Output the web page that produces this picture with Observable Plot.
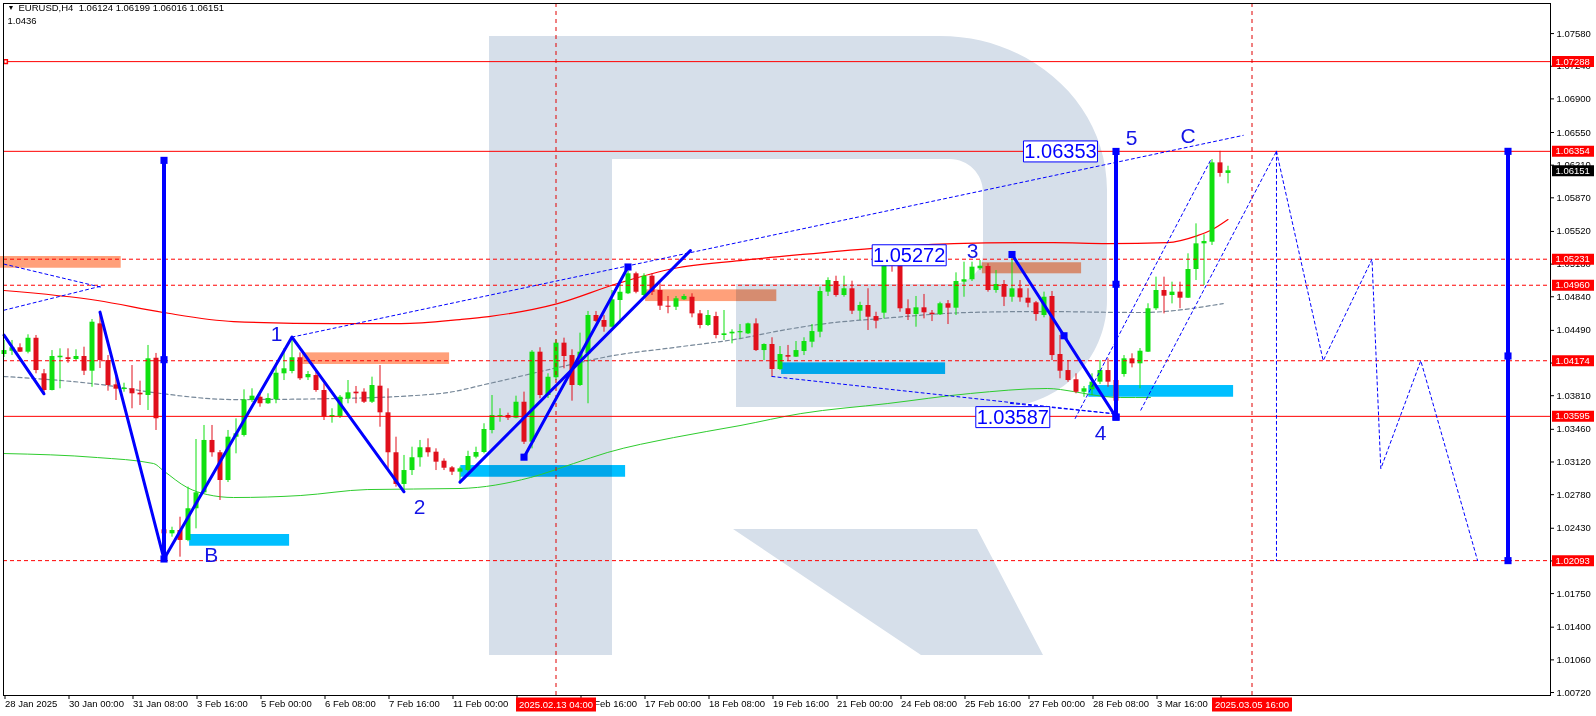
<!DOCTYPE html>
<html>
<head>
<meta charset="utf-8">
<title>EURUSD H4</title>
<script src="https://cdn.jsdelivr.net/npm/d3@7"></script>
<script src="https://cdn.jsdelivr.net/npm/@observablehq/plot@0.6"></script>
<style>
  html, body { margin: 0; padding: 0; background: #ffffff; }
  #chart svg { display: block; }
</style>
</head>
<body>
<div id="chart"></div>
<script>
// EURUSD H4 bars, index 0 = 28 Jan 2025 16:00 (weekends skipped, 8 bars per axis label)
const opens = [
  1.04239,1.04273,1.04309,1.04263,1.04408,1.04038,1.03864,1.04205,1.04205,1.04187,
  1.04218,1.04065,1.04558,1.04176,1.03923,1.03874,1.03882,1.03836,1.03812,1.04200,
  1.02414,1.02372,1.02407,1.02303,1.02633,1.02799,1.03344,1.03216,1.02927,1.03378,
  1.03396,1.03760,1.03794,1.03726,1.03767,1.04038,1.04062,1.04205,1.03997,1.04020,
  1.03864,1.03586,1.03594,1.03778,1.03847,1.03847,1.03742,1.03909,1.03632,1.03216,
  1.02886,1.03031,1.03164,1.03268,1.03222,1.03128,1.03059,1.03014,1.03031,1.03170,
  1.03219,1.03448,1.03594,1.03604,1.03576,1.03742,1.03326,1.04263,1.03812,1.03997,
  1.04357,1.04228,1.03916,1.04246,1.04645,1.04593,1.04523,1.04801,1.04871,1.05079,
  1.04853,1.05054,1.04905,1.04742,1.04731,1.04808,1.04835,1.04662,1.04541,1.04634,
  1.04437,1.04454,1.04465,1.04454,1.04558,1.04280,1.04343,1.04083,1.04228,1.04211,
  1.04270,1.04367,1.04471,1.04888,1.04999,1.04853,1.04923,1.04690,1.04749,1.04634,
  1.04669,1.05176,1.05166,1.04715,1.04655,1.04725,1.04669,1.04652,1.04767,1.04721,
  1.04992,1.05017,1.05131,1.05155,1.04905,1.04968,1.04835,1.04923,1.04825,1.04777,
  1.04645,1.04843,1.04239,1.04072,1.03976,1.03846,1.03871,1.03951,1.04072,1.03968,
  1.04031,1.04194,1.04142,1.04263,1.04715,1.04905,1.04853,1.04888,1.04825,1.05124,
  1.05391,1.05408,1.06234,1.06124
];
const highs = [
  1.04385,1.04385,1.04350,1.04444,1.04437,1.04083,1.04280,1.04298,1.04298,1.04288,
  1.04315,1.04603,1.04679,1.04228,1.04020,1.03940,1.04124,1.03961,1.04333,1.04250,
  1.02701,1.02441,1.02545,1.02858,1.03354,1.03500,1.03500,1.03239,1.03448,1.03569,
  1.03871,1.03882,1.03847,1.03830,1.04142,1.04298,1.04416,1.04256,1.04062,1.04072,
  1.03934,1.03674,1.03812,1.03968,1.03906,1.03882,1.04003,1.04124,1.03882,1.03378,
  1.03188,1.03274,1.03344,1.03361,1.03257,1.03153,1.03073,1.03066,1.03232,1.03274,
  1.03518,1.03812,1.03674,1.03628,1.03805,1.03847,1.04280,1.04309,1.04038,1.04392,
  1.04409,1.04288,1.04461,1.04687,1.04687,1.04645,1.04905,1.04975,1.05106,1.05096,
  1.05079,1.05079,1.04975,1.04843,1.04843,1.04864,1.04871,1.04697,1.04697,1.04679,
  1.04697,1.04496,1.04551,1.04565,1.04610,1.04350,1.04413,1.04322,1.04333,1.04374,
  1.04413,1.04551,1.04940,1.05037,1.05054,1.05054,1.05002,1.04783,1.04923,1.04679,
  1.05250,1.05238,1.05197,1.04808,1.04843,1.04864,1.04697,1.04783,1.04801,1.05089,
  1.05200,1.05200,1.05217,1.05183,1.05113,1.05009,1.05272,1.05009,1.04923,1.04791,
  1.04888,1.04895,1.04437,1.04176,1.04038,1.03906,1.04038,1.04176,1.04194,1.04038,
  1.04228,1.04246,1.04301,1.04767,1.05044,1.05044,1.04992,1.04992,1.05287,1.05599,
  1.05485,1.06269,1.06354,1.06199
];
const lows = [
  1.04208,1.04229,1.04260,1.04246,1.04038,1.03830,1.03860,1.03882,1.04148,1.04176,
  1.04020,1.03898,1.04093,1.03857,1.03760,1.03846,1.03674,1.03708,1.03656,1.03448,
  1.02100,1.02337,1.02129,1.02290,1.02424,1.02790,1.03170,1.02719,1.02906,1.03205,
  1.03380,1.03739,1.03690,1.03720,1.03726,1.03968,1.04038,1.03968,1.03968,1.03846,
  1.03552,1.03524,1.03573,1.03726,1.03726,1.03729,1.03729,1.03482,1.03049,1.02858,
  1.02806,1.02979,1.03066,1.03170,1.03031,1.03031,1.02979,1.02893,1.03014,1.03153,
  1.03205,1.03413,1.03534,1.03552,1.03570,1.03302,1.03257,1.03778,1.03781,1.03968,
  1.04090,1.03753,1.03906,1.03726,1.04572,1.04471,1.04517,1.04558,1.04863,1.04871,
  1.04843,1.04853,1.04697,1.04663,1.04697,1.04801,1.04621,1.04506,1.04530,1.04402,
  1.04385,1.04350,1.04402,1.04447,1.04270,1.04176,1.04003,1.04072,1.04169,1.04208,
  1.04228,1.04309,1.04413,1.04843,1.04836,1.04836,1.04655,1.04593,1.04489,1.04506,
  1.04610,1.05096,1.04679,1.04593,1.04523,1.04610,1.04582,1.04645,1.04551,1.04645,
  1.04835,1.04999,1.05113,1.04888,1.04877,1.04738,1.04783,1.04783,1.04725,1.04585,
  1.04621,1.04176,1.03986,1.03950,1.03830,1.03794,1.03812,1.03927,1.03898,1.03587,
  1.04003,1.04100,1.03882,1.04260,1.04697,1.04662,1.04766,1.04715,1.04822,1.05009,
  1.04957,1.05374,1.06085,1.06016
];
const closes = [
  1.04280,1.04309,1.04263,1.04408,1.04072,1.03864,1.04218,1.04221,1.04187,1.04218,
  1.04065,1.04575,1.04176,1.03916,1.03878,1.03887,1.03830,1.03819,1.04194,1.03570,
  1.02372,1.02407,1.02303,1.02633,1.02799,1.03344,1.03216,1.02927,1.03378,1.03413,
  1.03767,1.03805,1.03726,1.03781,1.04044,1.04090,1.04205,1.03986,1.04031,1.03864,
  1.03586,1.03604,1.03794,1.03840,1.03830,1.03742,1.03916,1.03632,1.03216,1.02886,
  1.03031,1.03164,1.03268,1.03216,1.03118,1.03055,1.03014,1.03049,1.03177,1.03219,
  1.03458,1.03604,1.03604,1.03576,1.03742,1.03326,1.04263,1.03812,1.04002,1.04357,
  1.04218,1.03916,1.04263,1.04645,1.04583,1.04523,1.04808,1.04887,1.05079,1.04887,
  1.05054,1.04887,1.04742,1.04731,1.04819,1.04843,1.04662,1.04541,1.04645,1.04437,
  1.04454,1.04471,1.04478,1.04558,1.04280,1.04343,1.04083,1.04239,1.04211,1.04280,
  1.04374,1.04478,1.04895,1.05009,1.04853,1.04923,1.04690,1.04749,1.04627,1.04586,
  1.05183,1.05155,1.04715,1.04655,1.04725,1.04673,1.04655,1.04767,1.04721,1.04999,
  1.05017,1.05148,1.05158,1.04905,1.04968,1.04835,1.04923,1.04829,1.04773,1.04655,
  1.04835,1.04228,1.04065,1.03968,1.03846,1.03882,1.03951,1.04072,1.03951,1.03753,
  1.04194,1.04142,1.04273,1.04715,1.04905,1.04846,1.04888,1.04825,1.05124,1.05391,
  1.05415,1.06234,1.06124,1.06151
];

// moving averages, sampled at bar positions
const slowMaBars   = [0, 11.7, 19.9, 28.7, 41.2, 49.6, 57, 60.6, 69.2, 76.7, 83.7, 92, 99.6, 108.3, 118.7, 131.2, 137.9, 145.4, 149.2, 150.8, 153];
const slowMaValues = [1.04905, 1.04801, 1.04676, 1.04582, 1.04561, 1.04561, 1.04603, 1.04634, 1.04769, 1.04978, 1.05134, 1.05217, 1.05279, 1.05342, 1.05394, 1.05404, 1.05394, 1.05404, 1.05477, 1.05529, 1.05644];
const midMaBars    = [0, 12.1, 19.6, 28.7, 41.2, 54.6, 60.6, 69.2, 76.2, 83.7, 92, 97.1, 102.7, 109.6, 120.4, 129.6, 142.1, 152.4];
const midMaValues  = [1.04010, 1.03926, 1.03833, 1.03770, 1.03780, 1.03833, 1.03936, 1.04103, 1.04228, 1.04311, 1.04405, 1.04488, 1.04561, 1.04613, 1.04676, 1.04686, 1.04676, 1.04769];
const longMaBars   = [0, 11.7, 18.7, 19.9, 22.9, 25.4, 28.7, 37.1, 45.4, 57, 65.8, 71.2, 75.4, 83.7, 92, 99.6, 110.4, 120.8, 130.4, 133.7, 135.8, 139.6, 143.3];
const longMaValues = [1.03208, 1.03166, 1.03104, 1.03031, 1.02854, 1.02781, 1.02750, 1.02771, 1.02833, 1.02844, 1.02958, 1.03104, 1.03218, 1.03374, 1.03499, 1.03624, 1.03728, 1.03833, 1.03885, 1.03853, 1.03822, 1.03791, 1.03791];

// horizontal levels
const solidLevels  = [1.07288, 1.06354, 1.03595];
const dashedLevels = [1.05231, 1.04960, 1.04174, 1.02093];
const levelLabels  = [1.07288, 1.06354, 1.05231, 1.04960, 1.04174, 1.03595, 1.02093];
const lastPrice    = 1.06151;

// vertical time markers
const markerBars   = [69, 156];
const markerLabels = ["2025.02.13 04:00", "2025.03.05 16:00"];

// axes
const priceTicks = [1.07580, 1.07240, 1.06900, 1.06550, 1.06210, 1.05870, 1.05520, 1.05180, 1.04840, 1.04490, 1.04150,
                    1.03810, 1.03460, 1.03120, 1.02780, 1.02430, 1.02090, 1.01750, 1.01400, 1.01060, 1.00720];
const timeTickBars = [0, 8, 16, 24, 32, 40, 48, 56, 64, 72, 80, 88, 96, 104, 112, 120, 128, 136, 144, 152];
const timeLabels   = ["28 Jan 2025", "30 Jan 00:00", "31 Jan 08:00", "3 Feb 16:00", "5 Feb 00:00", "6 Feb 08:00",
                      "7 Feb 16:00", "11 Feb 00:00", "12 Feb 08:00", "13 Feb 16:00", "17 Feb 00:00", "18 Feb 08:00",
                      "19 Feb 16:00", "21 Feb 00:00", "24 Feb 08:00", "25 Feb 16:00", "27 Feb 00:00", "28 Feb 08:00",
                      "3 Mar 16:00", "5 Mar 00:00"];
// tick labels that sit completely under a coloured tag are not printed
const coveredPriceTicks = [1.04150, 1.02090];
const coveredTimeTicks  = [64, 152];

// supply (orange) and demand (blue) zones: [startBar, endBar, low, high]
const supplyZones = [[-0.5, 14.65, 1.05137, 1.05259], [37.3, 55.7, 1.04135, 1.04256], [80.2, 96.6, 1.04790, 1.04912], [122.3, 134.7, 1.05079, 1.05194]];
const demandZones = [[23.2, 35.7, 1.02243, 1.02365], [57.1, 77.7, 1.02961, 1.03083], [97.2, 117.7, 1.04031, 1.04152], [135.6, 153.7, 1.03794, 1.03916]];

// wave lines: [bar, price] vertices
const waveLines = [
  [[0, 1.0444], [5, 1.0383]],
  [[12, 1.0468], [20, 1.0211]],
  [[20, 1.0211], [36, 1.0442], [50, 1.0281]],
  [[57, 1.0291], [85.8, 1.0532]],
  [[65, 1.0317], [78, 1.0515]],
  [[126, 1.0528], [139, 1.03587]]
];
const waveAnchors = [[65, 1.0317], [78, 1.0515], [126, 1.0528], [132.5, 1.04434], [139, 1.03587]];
// vertical measurements: [bar, low, high]
const measures = [[20, 1.0211, 1.0626], [139, 1.03587, 1.06353], [188, 1.02093, 1.06354]];

// dashed guide lines and forecast path
const guideLines = [
  [[0, 1.0518], [12.1, 1.0494]],
  [[0, 1.0470], [12.1, 1.0495]],
  [[36, 1.0442], [154.9, 1.0652]],
  [[96, 1.0401], [139, 1.0362]],
  [[125.8, 1.0373], [139, 1.0362]],
  [[133.9, 1.03573], [150.8, 1.06258]],
  [[142.1, 1.0366], [159.06, 1.06354]],
  [[159.06, 1.06354], [164.9, 1.04174], [171, 1.05231], [172.1, 1.0305], [177.1, 1.04174], [184.2, 1.02093]],
  [[159.06, 1.06354], [159.06, 1.02093]]
];

// wave labels
const waveNames  = ["B", "1", "2", "3", "4", "5", "C"];
const waveBars   = [25.9, 34.06, 51.94, 121.06, 137.06, 140.94, 148];
const wavePrices = [1.02147, 1.04452, 1.02651, 1.05317, 1.03417, 1.06493, 1.06508];

// boxed price annotations
const boxValues = [1.06353, 1.05272, 1.03587];
const boxBars   = [132.06, 113.15, 126.1];

const X_LO = -0.0625, X_HI = 193.3125, Y_LO = 1.00689, Y_HI = 1.07893;
const bull = "#10e010", bear = "#e0101c", blue = "#0000ff", red = "#ff0000";

const candles = opens.map((o, i) => ({i, o, h: highs[i], l: lows[i], c: closes[i]}));
const candleColor = d => d.c >= d.o ? bull : bear;
const flat = (paths) => paths.flatMap((p, k) => p.map(([x, y]) => ({k, x, y})));

// rectangle symbols for boxed labels
const rightTag = {draw(ctx) { ctx.rect(1.5, -5.5, 42, 11); }};
const bottomTag = {draw(ctx) { ctx.rect(-40, 2, 80, 14); }};
const priceBox = {draw(ctx) { ctx.rect(-37, -10.5, 74, 21); }};

// company watermark behind the chart
function watermark(index, scales, values, dimensions) {
  const g = d3.create("svg:g");
  g.append("path")
    .attr("fill", "#d6dfea")
    .attr("d",
      "M489,36H612V655H489Z" +
      "M612,36H940C1032,36 1107,104 1107,190V300C1107,359 1059,407 1000,407H736V284H952C969,284 983,270 983,253V192C983,174 968,159 950,159H612Z" +
      "M733,529H977L1043,655H921Z");
  return g.node();
}

const plot = Plot.plot({
  width: 1596,
  height: 716,
  marginLeft: 3,
  marginRight: 46,
  marginTop: 3,
  marginBottom: 21,
  style: {fontFamily: "'Liberation Sans', Arial, sans-serif", fontSize: "9.5px", background: "#ffffff", overflow: "visible"},
  x: {type: "linear", domain: [X_LO, X_HI]},
  y: {type: "linear", domain: [Y_LO, Y_HI]},
  marks: [
    watermark,
    Plot.rect(supplyZones, {x1: d => d[0], x2: d => d[1], y1: d => d[2], y2: d => d[3], fill: "#ffa07a", mixBlendMode: "multiply"}),
    Plot.rect(demandZones, {x1: d => d[0], x2: d => d[1], y1: d => d[2], y2: d => d[3], fill: "#00bfff", mixBlendMode: "multiply"}),

    // moving averages
    Plot.line(d3.zip(longMaBars, longMaValues), {x: d => d[0], y: d => d[1], stroke: "#2ecc2e", strokeWidth: 1, curve: "monotone-x"}),
    Plot.line(d3.zip(midMaBars, midMaValues), {x: d => d[0], y: d => d[1], stroke: "#778899", strokeWidth: 1.2, strokeDasharray: "4,3", curve: "monotone-x"}),
    Plot.line(d3.zip(slowMaBars, slowMaValues), {x: d => d[0], y: d => d[1], stroke: "#f00", strokeWidth: 1.2, curve: "monotone-x"}),

    // candles
    Plot.ruleX(candles, {x: "i", y1: "l", y2: "h", stroke: candleColor, strokeWidth: 1}),
    Plot.ruleX(candles, {x: "i", y1: "o", y2: d => Math.abs(d.c - d.o) < 0.0001 ? d.o + (d.c >= d.o ? 0.0001 : -0.0001) : d.c,
                         stroke: candleColor, strokeWidth: 5}),

    // horizontal levels and time markers
    Plot.ruleY(solidLevels, {stroke: red, strokeWidth: 1}),
    Plot.ruleY(dashedLevels, {stroke: red, strokeWidth: 1, strokeDasharray: "4,3"}),
    Plot.ruleX(markerBars, {stroke: "#e00000", strokeWidth: 1, strokeDasharray: "4,4"}),
    Plot.dot([solidLevels[0]], {x: () => 0.2, y: d => d, symbol: "square", r: 2, stroke: red, fill: "white"}),

    // guide lines and forecast
    Plot.line(flat(guideLines), {x: "x", y: "y", z: "k", stroke: blue, strokeWidth: 1, strokeDasharray: "3,3"}),

    // wave count
    Plot.line(flat(waveLines), {x: "x", y: "y", z: "k", stroke: blue, strokeWidth: 3}),
    Plot.ruleX(measures, {x: d => d[0], y1: d => d[1], y2: d => d[2], stroke: blue, strokeWidth: 4}),
    Plot.dot(measures.flatMap(([x, lo, hi]) => [[x, lo], [x, hi], [x, (lo + hi) / 2]]),
             {x: d => d[0], y: d => d[1], symbol: "square", r: 4, fill: blue}),
    Plot.dot(waveAnchors, {x: d => d[0], y: d => d[1], symbol: "square", r: 4, fill: blue}),

    // boxed price labels
    Plot.dot(boxValues, {x: (d, i) => boxBars[i], y: d => d, symbol: priceBox, fill: "white", stroke: blue, strokeWidth: 1}),
    Plot.text(boxValues, {x: (d, i) => boxBars[i], y: d => d, text: d => d.toFixed(5), fill: blue, fontSize: 20}),

    // wave names
    Plot.text(waveNames, {x: (d, i) => waveBars[i], y: (d, i) => wavePrices[i], text: d => d, fill: "#1414e6", fontSize: 21}),

    Plot.frame({stroke: "#000"}),

    // axes
    Plot.axisY(priceTicks, {anchor: "right", tickSize: 3, tickPadding: 3, label: null,
                            tickFormat: d => coveredPriceTicks.includes(d) ? "" : d.toFixed(5)}),
    Plot.axisX(timeTickBars, {anchor: "bottom", tickSize: 4, tickPadding: 1, textAnchor: "start", dx: 1, label: null,
                              tickFormat: d => coveredTimeTicks.includes(d) ? "" : timeLabels[timeTickBars.indexOf(d)]}),

    // price tags on the right axis
    Plot.dot(levelLabels, {x: () => X_HI, y: d => d, symbol: rightTag, fill: red, stroke: "none"}),
    Plot.text(levelLabels, {x: () => X_HI, y: d => d, text: d => d.toFixed(5), dx: 5, textAnchor: "start", fill: "white"}),
    Plot.dot([lastPrice], {x: () => X_HI, y: d => d, symbol: rightTag, fill: "#000", stroke: "none"}),
    Plot.text([lastPrice], {x: () => X_HI, y: d => d, text: d => d.toFixed(5), dx: 5, textAnchor: "start", fill: "white"}),

    // time tags under the vertical markers
    Plot.dot(markerBars, {x: d => d, y: () => Y_LO, symbol: bottomTag, fill: red, stroke: "none"}),
    Plot.text(markerBars, {x: d => d, y: () => Y_LO, text: (d, i) => markerLabels[i], dy: 9, fill: "white"}),

    // header
    Plot.text(["\u25BC"], {frameAnchor: "top-left", dx: 4, dy: 2, fontSize: 7}),
    Plot.text(["EURUSD,H4  1.06124 1.06199 1.06016 1.06151"], {frameAnchor: "top-left", dx: 15, dy: 1, fontSize: 9.5}),
    Plot.text(["1.0436"], {frameAnchor: "top-left", dx: 4, dy: 14, fontSize: 9.5})
  ]
});

document.getElementById("chart").append(plot);
</script>
</body>
</html>
